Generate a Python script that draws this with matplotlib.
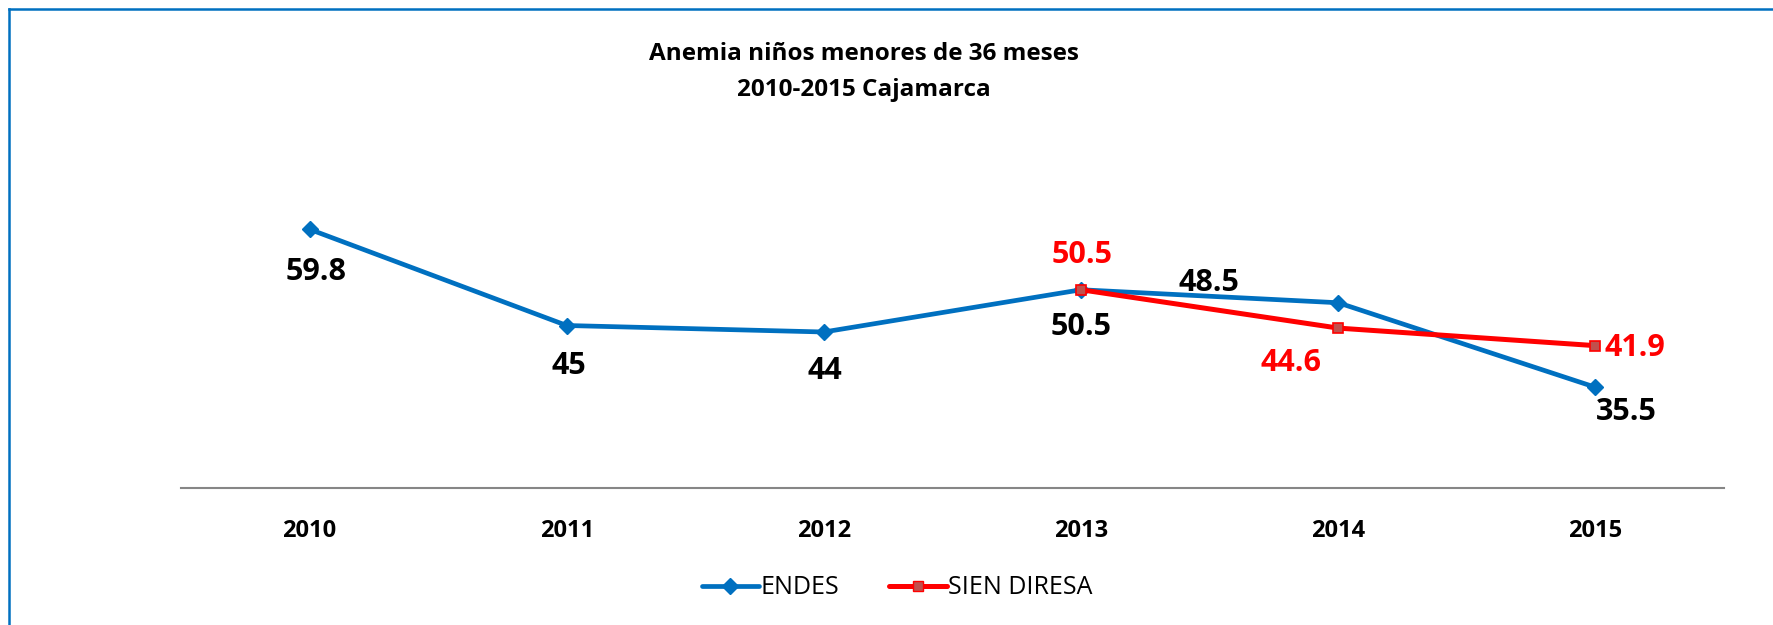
import matplotlib
matplotlib.use("Agg")
import matplotlib.pyplot as plt
from matplotlib.lines import Line2D

years = ["2010", "2011", "2012", "2013", "2014", "2015"]
endes = [59.8, 45, 44, 50.5, 48.5, 35.5]
sien_years_idx = [3, 4, 5]
sien = [50.5, 44.6, 41.9]

title = "Anemia niños menores de 36 meses\n2010-2015 Cajamarca"

W, H = 1773, 625
fig = plt.figure(figsize=(W / 100, H / 100), dpi=100)
plt.rcParams['font.family'] = ['Open Sans', 'DejaVu Sans']

ax = fig.add_axes([181 / W, 1 - 488 / H, (1724 - 181) / W, (488 - 163) / H])
x = list(range(len(years)))
blue = "#0070C0"
red = "#FF0000"
ax.plot(x, endes, color=blue, lw=3.4, marker="D", ms=8, mfc=blue, mec=blue,
        solid_capstyle="round", zorder=3, label="ENDES")
ax.plot(sien_years_idx, sien, color=red, lw=3.6, marker="s", ms=7,
        mfc="#C0504D", mec=red, mew=1.2, solid_capstyle="round", zorder=4,
        label="SIEN DIRESA")

ax.set_xlim(-0.5, len(years) - 0.5)
ax.set_ylim(20, 70)
for s in ["top", "right", "left"]:
    ax.spines[s].set_visible(False)
ax.spines["bottom"].set_color("#868686")
ax.spines["bottom"].set_linewidth(1.5)
ax.set_yticks([])
ax.set_xticks(x)
ax.set_xticklabels(years, fontsize=17, fontweight="bold")
ax.tick_params(axis="x", length=0, pad=22)

# data labels (offsets in pixels)
endes_off = [(6, -43), (2, -41), (1, -39), (0, -37), (-129, 20), (31, -25)]
for i, v in enumerate(endes):
    ax.annotate(f"{v:g}", (x[i], v), xytext=endes_off[i], textcoords="offset pixels",
                ha="center", va="center", fontsize=22, fontweight="bold", color="black")
sien_off = [(1, 35), (-47, -35), (39, -2)]
for k, (j, v) in enumerate(zip(sien_years_idx, sien)):
    ax.annotate(f"{v:g}", (j, v), xytext=sien_off[k], textcoords="offset pixels",
                ha="center", va="center", fontsize=22, fontweight="bold", color=red)

fig.text(864 / W, 1 - 72 / H, title, ha="center", va="center", fontsize=17.5,
         fontweight="bold", linespacing=1.72)

handles = [Line2D([], [], color=blue, lw=3.4, marker="D", ms=8, solid_capstyle="round"),
           Line2D([], [], color=red, lw=3.6, marker="s", ms=7, mfc="#C0504D", mec=red,
                  solid_capstyle="round")]
fig.legend(handles, ["ENDES", "SIEN DIRESA"], loc="center", bbox_to_anchor=(897 / W, 1 - 588 / H),
           ncol=2, frameon=False, fontsize=18, handlelength=2.3, handletextpad=0.05,
           columnspacing=2.0)

# outer chart border (only left and top visible)
fig.add_artist(Line2D([8.5 / W, 8.5 / W], [0, 1 - 9 / H], color=blue, lw=1.8,
                      transform=fig.transFigure))
fig.add_artist(Line2D([8.5 / W, 1], [1 - 9 / H, 1 - 9 / H], color=blue, lw=1.8,
                      transform=fig.transFigure))

fig.savefig("out.png", dpi=100, facecolor="white")
